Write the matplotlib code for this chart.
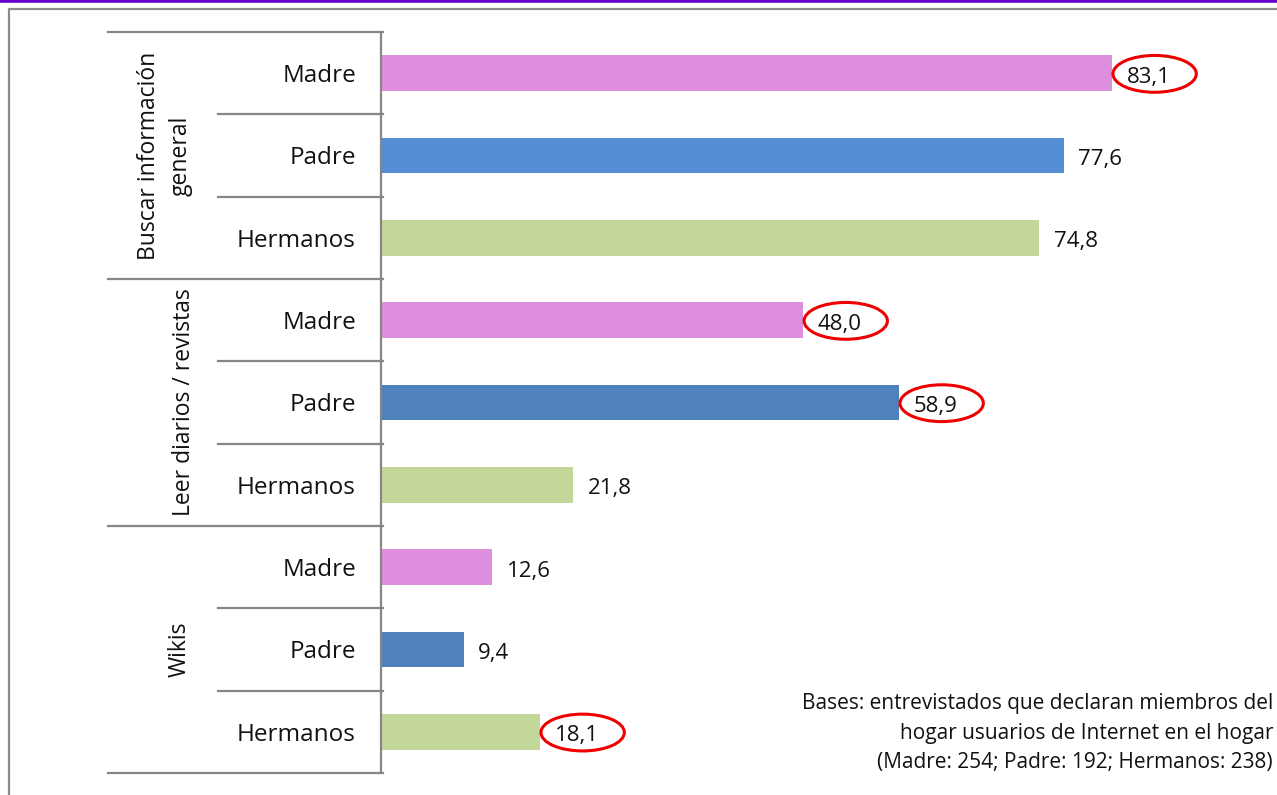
import matplotlib
matplotlib.use("Agg")
import matplotlib.pyplot as plt
from matplotlib.patches import Ellipse
from matplotlib.lines import Line2D
from matplotlib.transforms import Affine2D, ScaledTranslation, blended_transform_factory

plt.rcParams['font.family'] = ['Open Sans', 'DejaVu Sans']

# Data
groups = ["Buscar información\ngeneral", "Leer diarios / revistas", "Wikis"]
members = ["Madre", "Padre", "Hermanos"]
values = [83.1, 77.6, 74.8,
          48.0, 58.9, 21.8,
          12.6, 9.4, 18.1]
colors = ["#DD8EDD", "#558ED5", "#C4D79B",
          "#DD8EDD", "#4F81BD", "#C4D79B",
          "#DD8EDD", "#4F81BD", "#C4D79B"]
highlighted = [0, 3, 4, 8]
note = ("Bases: entrevistados que declaran miembros del\n"
        "hogar usuarios de Internet en el hogar\n"
        "(Madre: 254; Padre: 192; Hermanos: 238)")

W, H = 1277, 795
fig = plt.figure(figsize=(W / 100, H / 100), dpi=100)
fig.patch.set_facecolor("white")

ax = fig.add_axes([381 / W, 1 - 773 / H, (1261 - 381) / W, (773 - 32) / H])
n = len(values)
ypos = list(range(n))
ax.barh(ypos, values, height=0.43, color=colors, zorder=2)
ax.set_xlim(0, 100)
ax.set_ylim(n - 0.5, -0.5)

ax.set_yticks(ypos)
ax.set_yticklabels(members * len(groups), fontsize=17.5, color="#111111")
ax.tick_params(axis="y", length=0, pad=18)
for lbl in ax.get_yticklabels():
    lbl.set_verticalalignment("center_baseline")
ax.xaxis.set_visible(False)
for s in ("top", "right", "bottom"):
    ax.spines[s].set_visible(False)
ax.spines["left"].set_color("#868686")
ax.spines["left"].set_linewidth(1.6)

# Value labels
for i, v in enumerate(values):
    ax.annotate(f"{v:.1f}".replace(".", ","), xy=(v, i), xytext=(10.5, -1),
                textcoords="offset points", va="center_baseline", ha="left",
                fontsize=16, color="#111111")

# Red ellipses around selected labels
pt = fig.dpi / 72.0
for i in highlighted:
    tr = Affine2D().scale(pt) + ScaledTranslation(values[i], i, ax.transData)
    e = Ellipse((30.5, -0.5), 60, 26.5, transform=tr, fill=False,
                edgecolor="#EE0000", linewidth=2.2, clip_on=False, zorder=3)
    ax.add_artist(e)

# Category separators to the left of the axis
bt = blended_transform_factory(ax.transAxes, ax.transData)
x_group = (108 - 381) / (1261 - 381)
x_sub = (218 - 381) / (1261 - 381)
for yb in [-0.5, 2.5, 5.5, 8.5]:
    ax.add_line(Line2D([x_group, 0.002], [yb, yb], transform=bt, color="#868686",
                       lw=1.6, clip_on=False))
for yb in [0.5, 1.5, 3.5, 4.5, 6.5, 7.5]:
    ax.add_line(Line2D([x_sub, 0.002], [yb, yb], transform=bt, color="#868686",
                       lw=1.6, clip_on=False))

# Group labels
gx = [(165 - 381) / (1261 - 381), (184 - 381) / (1261 - 381), (180 - 381) / (1261 - 381)]
for k, g in enumerate(groups):
    ax.text(gx[k], 3 * k + 1, g, transform=bt, rotation=90, ha="center", va="center",
            multialignment="center", fontsize=16.5, color="#111111", linespacing=1.45)

# Footnote
fig.text(1273 / W, 1 - 733 / H, note, ha="right", va="center", fontsize=15,
         color="#111111", linespacing=1.55)

# Outer frame and top rule
fig.add_artist(Line2D([8.5 / W, 8.5 / W, 1.0], [0.0, 1 - 8.5 / H, 1 - 8.5 / H],
                      transform=fig.transFigure, color="#8C8C8C", lw=1.6))
fig.add_artist(Line2D([0.0, 1.0], [1 - 1.3 / H, 1 - 1.3 / H],
                      transform=fig.transFigure, color="#6600CC", lw=2.6))

fig.savefig("out.png", dpi=100)
